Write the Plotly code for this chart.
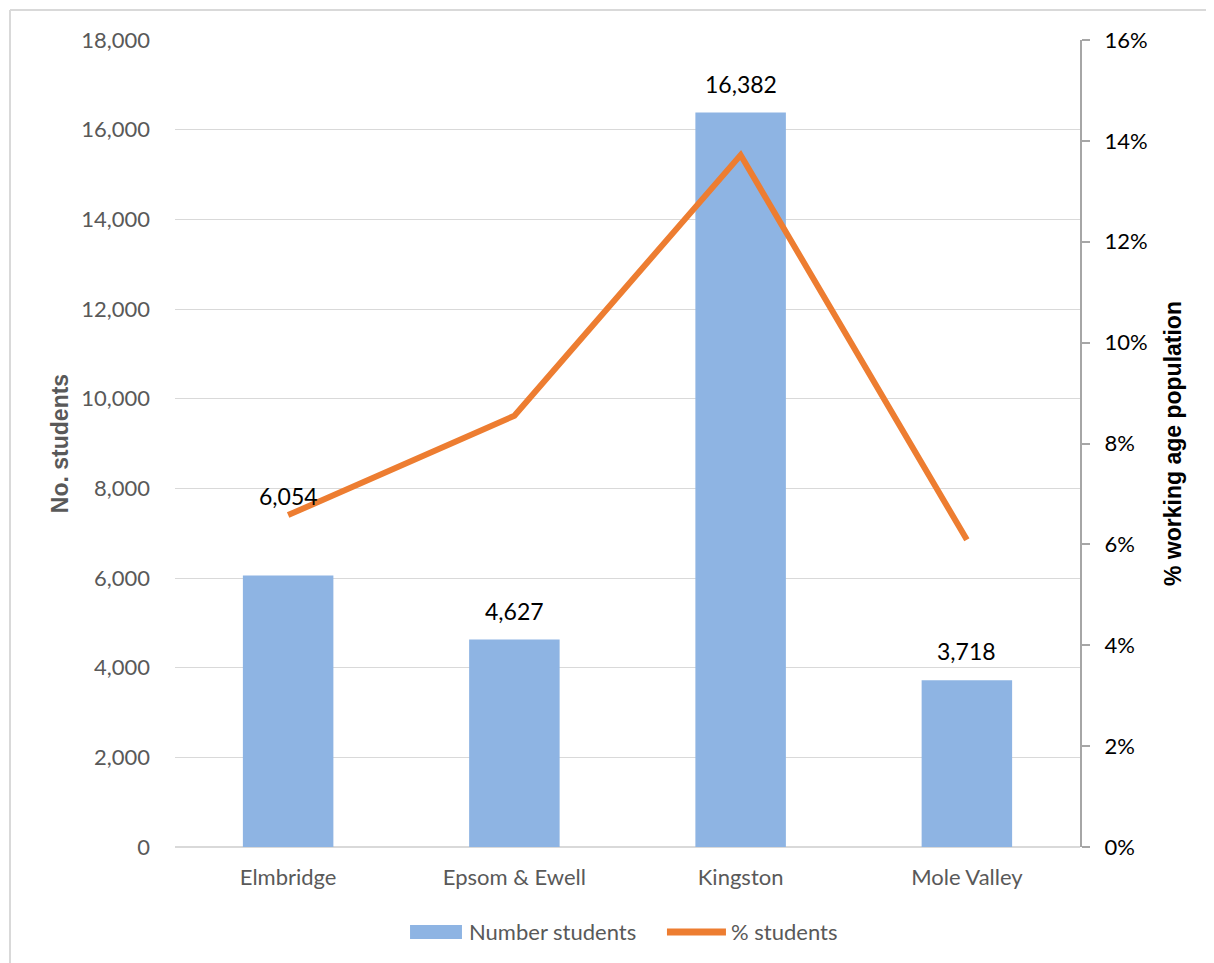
import plotly.graph_objects as go

categories = ["Elmbridge", "Epsom & Ewell", "Kingston", "Mole Valley"]
number_students = [6054, 4627, 16382, 3718]
pct_students = [0.0658, 0.0855, 0.1372, 0.0609]
bar_label_text = ["6,054", "4,627", "16,382", "3,718"]
left_ticks = list(range(0, 18001, 2000))
right_ticks = [i / 100 for i in range(0, 17, 2)]

FONT = "Lato"
BAR_COLOR = "#8EB4E3"
LINE_COLOR = "#ED7D31"
fig = go.Figure()
fig.add_trace(go.Bar(
    x=categories, y=number_students, name="Number students",
    marker=dict(color=BAR_COLOR, line=dict(width=0)), width=0.4,
))
fig.add_trace(go.Scatter(
    x=categories, y=pct_students, name="% students", yaxis="y2",
    mode="lines", line=dict(color=LINE_COLOR, width=6),
))

label_shift = [64, 13, 13, 13]
for c, v, t, s in zip(categories, number_students, bar_label_text, label_shift):
    fig.add_annotation(x=c, y=v, text=t, showarrow=False, yanchor="bottom",
                       yshift=s, font=dict(family=FONT, size=23, color="#000000"))

# chart-area border (partially visible)
fig.add_shape(type="line", xref="paper", yref="paper", x0=-0.1823, x1=-0.1823,
              y0=1.0372, y1=-0.2, line=dict(color="#D9D9D9", width=2))
fig.add_shape(type="line", xref="paper", yref="paper", x0=-0.1823, x1=1.2,
              y0=1.0372, y1=1.0372, line=dict(color="#D9D9D9", width=2))

# custom legend
fig.add_shape(type="rect", xref="paper", yref="paper", x0=0.2597, x1=0.3171,
              y0=-0.1140, y1=-0.0967, line=dict(width=0), fillcolor=BAR_COLOR)
fig.add_annotation(xref="paper", yref="paper", x=0.3227, y=-0.1053, xanchor="left",
                   yanchor="middle", text="Number students", showarrow=False,
                   font=dict(family=FONT, size=22, color="#595959"))
fig.add_shape(type="line", xref="paper", yref="paper", x0=0.5436, x1=0.6088,
              y0=-0.1053, y1=-0.1053, line=dict(color=LINE_COLOR, width=7))
fig.add_annotation(xref="paper", yref="paper", x=0.6122, y=-0.1053, xanchor="left",
                   yanchor="middle", text="% students", showarrow=False,
                   font=dict(family=FONT, size=22, color="#595959"))

fig.update_layout(
    width=1206, height=955,
    margin=dict(l=167, r=134, t=32, b=116),
    paper_bgcolor="white", plot_bgcolor="white",
    font=dict(family=FONT, size=22, color="#595959"),
    showlegend=False,
    xaxis=dict(showline=False, ticks="", tickfont=dict(size=22, color="#595959"),
               showgrid=False, ticklabelstandoff=15),
    yaxis=dict(range=[0, 18000], tickvals=left_ticks, tickformat=",d",
               showgrid=True, gridcolor="#D9D9D9", gridwidth=1,
               zeroline=True, zerolinecolor="#D9D9D9", zerolinewidth=2,
               showline=False, ticks="", ticklabelstandoff=24,
               tickfont=dict(size=22, color="#595959"),
               title=dict(text="<b>No. students</b>", standoff=6,
                          font=dict(family="Liberation Sans", size=23, color="#595959"))),
    yaxis2=dict(range=[0, 0.16], tickvals=right_ticks, tickformat=".0%",
                overlaying="y", side="right", showgrid=False, zeroline=False,
                showline=True, linecolor="#A6A6A6", linewidth=2,
                ticks="outside", ticklen=8, tickcolor="#A6A6A6", tickwidth=2,
                ticklabelstandoff=10,
                tickfont=dict(size=22, color="#000000"),
                title=dict(text="<b>% working age population</b>", standoff=18,
                           font=dict(family="Liberation Sans", size=23, color="#000000"))),
)

fig.write_html("out.html")
